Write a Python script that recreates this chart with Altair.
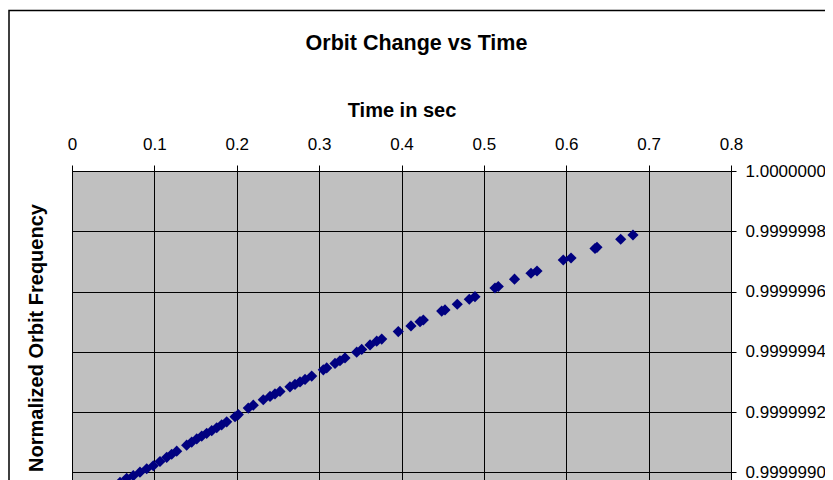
import altair as alt
import pandas as pd

# Time (s)
time_s = [0.0583, 0.0664, 0.0744, 0.0825, 0.0907, 0.0987, 0.1068, 0.1150, 0.1210, 0.1271,
          0.1392, 0.1453, 0.1514, 0.1575, 0.1635, 0.1696, 0.1757, 0.1817, 0.1878, 0.1979,
          0.2019, 0.2140, 0.2201, 0.2322, 0.2404, 0.2464, 0.2525, 0.2646, 0.2707, 0.2768,
          0.2829, 0.2910, 0.3051, 0.3092, 0.3193, 0.3253, 0.3314, 0.3456, 0.3517, 0.3618,
          0.3699, 0.3760, 0.3961, 0.4115, 0.4225, 0.4265, 0.4488, 0.4528, 0.4677, 0.4823,
          0.4892, 0.5135, 0.5175, 0.5372, 0.5572, 0.5645, 0.5964, 0.6058, 0.6349, 0.6373,
          0.6661, 0.6810]

# Normalized orbit frequency
freq = [0.9999989668, 0.9999989804, 0.9999989891, 0.9999990010, 0.9999990123, 0.9999990222,
        0.9999990362, 0.9999990501, 0.9999990604, 0.9999990706, 0.9999990905, 0.9999991008,
        0.9999991111, 0.9999991207, 0.9999991297, 0.9999991386, 0.9999991483, 0.9999991579,
        0.9999991678, 0.9999991847, 0.9999991920, 0.9999992136, 0.9999992232, 0.9999992411,
        0.9999992521, 0.9999992604, 0.9999992687, 0.9999992839, 0.9999992919, 0.9999993002,
        0.9999993085, 0.9999993197, 0.9999993403, 0.9999993466, 0.9999993615, 0.9999993705,
        0.9999993798, 0.9999993990, 0.9999994080, 0.9999994229, 0.9999994355, 0.9999994425,
        0.9999994673, 0.9999994859, 0.9999995002, 0.9999995058, 0.9999995353, 0.9999995390,
        0.9999995579, 0.9999995745, 0.9999995831, 0.9999996119, 0.9999996169, 0.9999996411,
        0.9999996607, 0.9999996683, 0.9999997048, 0.9999997114, 0.9999997430, 0.9999997469,
        0.9999997735, 0.9999997877]

x_ticks = [0, 0.1, 0.2, 0.3, 0.4, 0.5, 0.6, 0.7, 0.8]
y_ticks = [0.9999986, 0.9999988, 0.9999990, 0.9999992, 0.9999994, 0.9999996, 0.9999998, 1.0]

df = pd.DataFrame({"t": time_s, "f": freq})

FONT = "Liberation Sans, Arial, sans-serif"

points = alt.Chart(df).mark_point(
    shape="diamond", filled=True, color="#000080", size=125, opacity=1
).encode(
    x=alt.X("t:Q",
            scale=alt.Scale(domain=[0, 0.8], nice=False, zero=False),
            axis=alt.Axis(orient="top", values=x_ticks, format=".1~f",
                          title="Time in sec", titlePadding=14.5,
                          labelPadding=12, tickSize=6)),
    y=alt.Y("f:Q",
            scale=alt.Scale(domain=[0.9999986, 1.0], nice=False, zero=False),
            axis=alt.Axis(orient="right", values=y_ticks, format=".7f",
                          title="Normalized Orbit Frequency",
                          titleAngle=270, titleX=-695, titleY=166.5,
                          titleBaseline="middle", titleAlign="center",
                          titleFontSize=20,
                          labelPadding=9, tickSize=5)),
)

border = alt.Chart(alt.Data(values=[{}])).mark_rect(
    fillOpacity=0, stroke="black", strokeWidth=1.5
).encode(
    x=alt.value(-63), x2=alt.value(900),
    y=alt.value(-160.5), y2=alt.value(900)
)

chart = alt.layer(points, border).properties(
    width=659, height=422,
    padding={"left": 64, "top": 163, "right": 94, "bottom": 0},
    autosize=alt.AutoSizeParams(type="none"),
    title=alt.Title("Orbit Change vs Time", fontSize=21.5, font=FONT,
                    fontWeight="bold", color="black", anchor="middle",
                    dx=15, offset=0, dy=45),
).configure(
    background="white"
).configure_view(
    fill="#C0C0C0", stroke="#808080", strokeWidth=1
).configure_axis(
    grid=True, gridColor="#000000", gridWidth=1, gridOpacity=1,
    domainColor="#000000", domainWidth=1, tickColor="#000000", tickWidth=1,
    labelColor="#000000", labelFont=FONT, labelFontSize=17,
    titleColor="#000000", titleFont=FONT, titleFontSize=20, titleFontWeight="bold",
    labelOverlap=False, labelFlush=False
)

chart.save("out.html", embed_options={"renderer": "svg", "actions": False})
